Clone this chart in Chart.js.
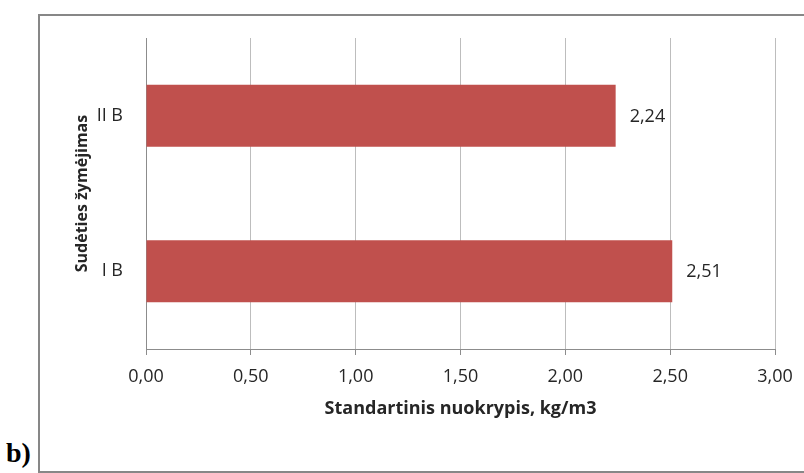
<!DOCTYPE html>
<html>
<head>
<meta charset="utf-8">
<script src="https://cdn.jsdelivr.net/npm/chart.js@4/dist/chart.umd.min.js"></script>
<style>
  html, body { margin: 0; padding: 0; background: #fff; }
  #wrap { position: relative; width: 804px; height: 473px; overflow: hidden; }
  #frame { position: absolute; left: 38px; top: 14px; width: 800px; height: 455px; border: 2px solid #878787; }
  #tag { position: absolute; left: 6px; top: 439px; font: bold 28px "Liberation Serif", "Times New Roman", serif; color: #000; line-height: 1; }
  #c { position: absolute; left: 0; top: 0; }
</style>
</head>
<body>
<div id="wrap">
  <div id="frame"></div>
  <div id="tag">b)</div>
  <canvas id="c" width="804" height="473"></canvas>
</div>
<script>
// Mix designations and their standard deviation
const categories = ['II B', 'I B'];
const stdDeviation = [2.24, 2.51];
const xTicks = [0, 0.5, 1, 1.5, 2, 2.5, 3];

const fmt = v => Number(v).toFixed(2).replace('.', ',');
const FONT = '"Open Sans", "Noto Sans", sans-serif';
const TEXT = '#262626';

// value labels at the end of each bar
const valueLabels = {
  id: 'valueLabels',
  afterDatasetsDraw(chart) {
    const ctx = chart.ctx;
    const meta = chart.getDatasetMeta(0);
    ctx.save();
    ctx.font = '18px ' + FONT;
    ctx.fillStyle = TEXT;
    ctx.textAlign = 'left';
    ctx.textBaseline = 'middle';
    meta.data.forEach((bar, i) => {
      ctx.fillText(fmt(chart.data.datasets[0].data[i]), bar.x + 14, bar.y + 1);
    });
    ctx.restore();
  }
};

new Chart(document.getElementById('c'), {
  type: 'bar',
  data: {
    labels: categories,
    datasets: [{
      data: stdDeviation,
      backgroundColor: '#C0504D',
      borderWidth: 0,
      barPercentage: 0.5,
      categoryPercentage: 0.8
    }]
  },
  options: {
    indexAxis: 'y',
    responsive: false,
    animation: false,
    layout: { padding: { left: 69, top: 38, right: 29, bottom: 49 } },
    plugins: { legend: { display: false }, tooltip: { enabled: false } },
    scales: {
      x: {
        min: 0, max: 3,
        afterBuildTicks(scale) { scale.ticks = xTicks.map(v => ({ value: v })); },
        afterFit(scale) { scale.height = 75; },
        grid: { color: '#BDBDBD', tickColor: '#8C8C8C', tickLength: 6, lineWidth: 1 },
        border: { display: true, color: '#8C8C8C', width: 1 },
        ticks: { padding: 11, color: TEXT, font: { family: FONT, size: 18 }, callback: v => fmt(v), maxRotation: 0 },
        title: { display: true, text: 'Standartinis nuokrypis, kg/m3', color: TEXT, font: { family: FONT, size: 18, weight: 'bold' }, padding: 4 }
      },
      y: {
        afterFit(scale) { scale.width = 77; },
        grid: { display: false, drawTicks: false },
        border: { display: true, color: '#8C8C8C', width: 1 },
        ticks: { padding: 23, color: TEXT, font: { family: FONT, size: 18 } },
        title: { display: true, text: 'Sudėties žymėjimas', color: TEXT, font: { family: FONT, size: 16, weight: 'bold' }, padding: 4 }
      }
    }
  },
  plugins: [valueLabels]
});
</script>
</body>
</html>
